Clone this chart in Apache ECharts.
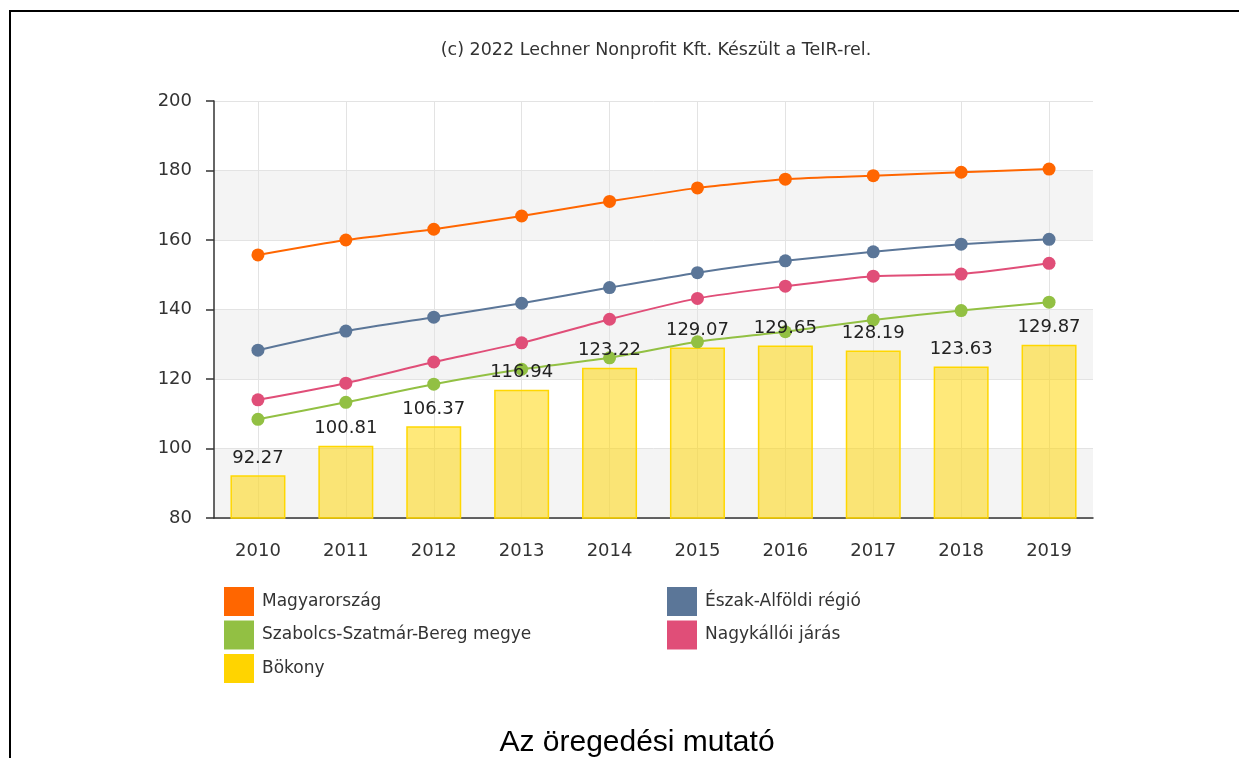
<!DOCTYPE html>
<html><head><meta charset="utf-8">
<script src="https://cdn.jsdelivr.net/npm/echarts@6/dist/echarts.min.js"></script>
<style>html,body{margin:0;padding:0;background:#fff}#c{width:1239px;height:758px}</style>
</head><body><div id="c"></div>
<script>
const years = ['2010','2011','2012','2013','2014','2015','2016','2017','2018','2019'];
const magyarorszag = [155.7,160.0,163.1,166.9,171.1,175.0,177.5,178.5,179.5,180.4];
const eszakAlfold  = [128.3,133.8,137.8,141.8,146.3,150.6,154.0,156.6,158.8,160.2];
const szabolcs     = [108.4,113.3,118.5,122.8,126.1,130.7,133.6,137.0,139.7,142.1];
const nagykallo    = [114.0,118.8,124.9,130.4,137.2,143.2,146.7,149.6,150.2,153.3];
const bokony       = [92.27,100.81,106.37,116.94,123.22,129.07,129.65,128.19,123.63,129.87];
const names = ['Magyarország','Észak-Alföldi régió','Szabolcs-Szatmár-Bereg megye','Nagykállói járás','Bökony'];
const colors = ['#FF6600','#5B7698','#92C043','#E04E78','#FFD400'];
const sourceText = '(c) 2022 Lechner Nonprofit Kft. Készült a TeIR-rel.';
const chartTitle = 'Az öregedési mutató';

const F = 'DejaVu Sans';
const chart = echarts.init(document.getElementById('c'), null, {renderer:'canvas'});

function lineSeries(name, data, color){
  return {
    name, type:'line', data, z:3,
    smooth:0.2, symbol:'circle', symbolSize:13,
    lineStyle:{color, width:2}, itemStyle:{color},
    emphasis:{disabled:true}
  };
}

const legendText = {fontFamily:F, fontSize:17, color:'#333', padding:[0,0,0,3]};
chart.setOption({
  animation:false,
  grid:{left:214, right:146, top:101, bottom:240, containLabel:false},
  graphic:[
    {type:'line', shape:{x1:10, y1:11, x2:1239, y2:11}, style:{stroke:'#000', lineWidth:2}},
    {type:'line', shape:{x1:10, y1:10, x2:10, y2:758}, style:{stroke:'#000', lineWidth:2}},
    {type:'text', x:656, y:50, style:{text:sourceText, font:'17.5px "DejaVu Sans"', fill:'#333', textAlign:'center', textVerticalAlign:'middle'}},
    {type:'text', x:637, y:743, style:{text:chartTitle, font:'30px "Liberation Sans"', fill:'#000', textAlign:'center', textVerticalAlign:'middle'}}
  ],
  legend:[
    {data:[names[0],names[2],names[4]].map((n)=>({name:n, itemStyle:{color:colors[names.indexOf(n)], borderWidth:0}})),
     orient:'vertical', left:224, top:587, padding:0, itemWidth:30, itemHeight:29, itemGap:4.5, icon:'rect',
     textStyle:legendText, selectedMode:false},
    {data:[names[1],names[3]].map((n)=>({name:n, itemStyle:{color:colors[names.indexOf(n)], borderWidth:0}})),
     orient:'vertical', left:667, top:587, padding:0, itemWidth:30, itemHeight:29, itemGap:4.5, icon:'rect',
     textStyle:legendText, selectedMode:false}
  ],
  xAxis:{
    type:'category', data:years, boundaryGap:true,
    axisLine:{lineStyle:{color:'#333', width:1.5}},
    axisTick:{alignWithLabel:true, length:8, lineStyle:{color:'#333', width:1.5}},
    axisLabel:{fontFamily:F, fontSize:18, color:'#333', margin:24},
    splitLine:{show:true, alignWithLabel:true, lineStyle:{color:'#e3e3e3', width:1}}
  },
  yAxis:{
    type:'value', min:80, max:200, interval:20,
    axisLine:{show:true, lineStyle:{color:'#333', width:1.5}},
    axisTick:{show:true, length:8, lineStyle:{color:'#333', width:1.5}},
    axisLabel:{fontFamily:F, fontSize:18, color:'#333', margin:22},
    splitLine:{show:true, lineStyle:{color:'#e3e3e3', width:1}},
    splitArea:{show:true, areaStyle:{color:['#f4f4f4','#ffffff']}}
  },
  series:[
    {name:names[4], type:'bar', data:bokony, barWidth:55, z:2,
     itemStyle:{color:'rgba(255,212,0,0.52)', borderColor:'#FFD700', borderWidth:1.5},
     emphasis:{disabled:true}},
    lineSeries(names[0], magyarorszag, colors[0]),
    lineSeries(names[1], eszakAlfold, colors[1]),
    lineSeries(names[2], szabolcs, colors[2]),
    lineSeries(names[3], nagykallo, colors[3]),
    {name:'labels', type:'bar', data:bokony, barWidth:55, barGap:'-100%', z:10,
     itemStyle:{color:'rgba(0,0,0,0)'}, silent:true,
     label:{show:true, position:'top', distance:8, fontFamily:F, fontSize:18, color:'#222',
            formatter:(p)=>p.value.toFixed(2)}}
  ]
});
</script></body></html>
